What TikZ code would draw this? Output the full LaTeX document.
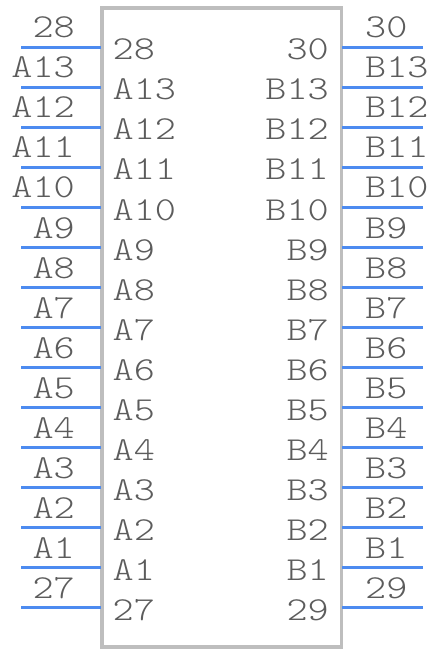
\documentclass[tikz,border=0pt]{standalone}
\usepackage{fontspec}
\newfontfamily\pinfont[FakeStretch=1.2]{Latin Modern Mono Light}
\definecolor{pinblue}{RGB}{77,139,240}
\definecolor{boxgray}{RGB}{190,190,190}
\definecolor{txtgray}{RGB}{92,92,92}
\begin{document}
\begin{tikzpicture}[x=1pt,y=-1pt,
  pinline/.style={draw=pinblue,line width=3.5pt},
  bodybox/.style={draw=boxgray,line width=3.5pt},
  lbl/.style={text=txtgray,inner sep=0pt,font=\pinfont\fontsize{33.5}{33.5}\selectfont}]
\useasboundingbox (0,0) rectangle (444,652);
\draw[bodybox] (102,8) rectangle (341.5,647);
\foreach \l/\r [count=\i from 0] in {28/30,A13/B13,A12/B12,A11/B11,A10/B10,A9/B9,A8/B8,A7/B7,A6/B6,A5/B5,A4/B4,A3/B3,A2/B2,A1/B1,27/29}{
  \pgfmathsetmacro{\yy}{47.5+40*\i}
  \coordinate (la\i) at (21,\yy);
  \coordinate (lb\i) at (101,\yy);
  \coordinate (ra\i) at (342,\yy);
  \coordinate (rb\i) at (423,\yy);
  \draw[pinline] (la\i) -- (lb\i);
  \draw[pinline] (ra\i) -- (rb\i);
  \node[lbl,anchor=base east] (lo\i) at (75,\yy-9.5) {\l};
  \node[lbl,anchor=base west] (li\i) at (112.5,\yy+12.5) {\l};
  \node[lbl,anchor=base east] (ri\i) at (329,\yy+12.5) {\r};
  \node[lbl,anchor=base west] (ro\i) at (365,\yy-9.5) {\r};
}
\end{tikzpicture}
\end{document}
